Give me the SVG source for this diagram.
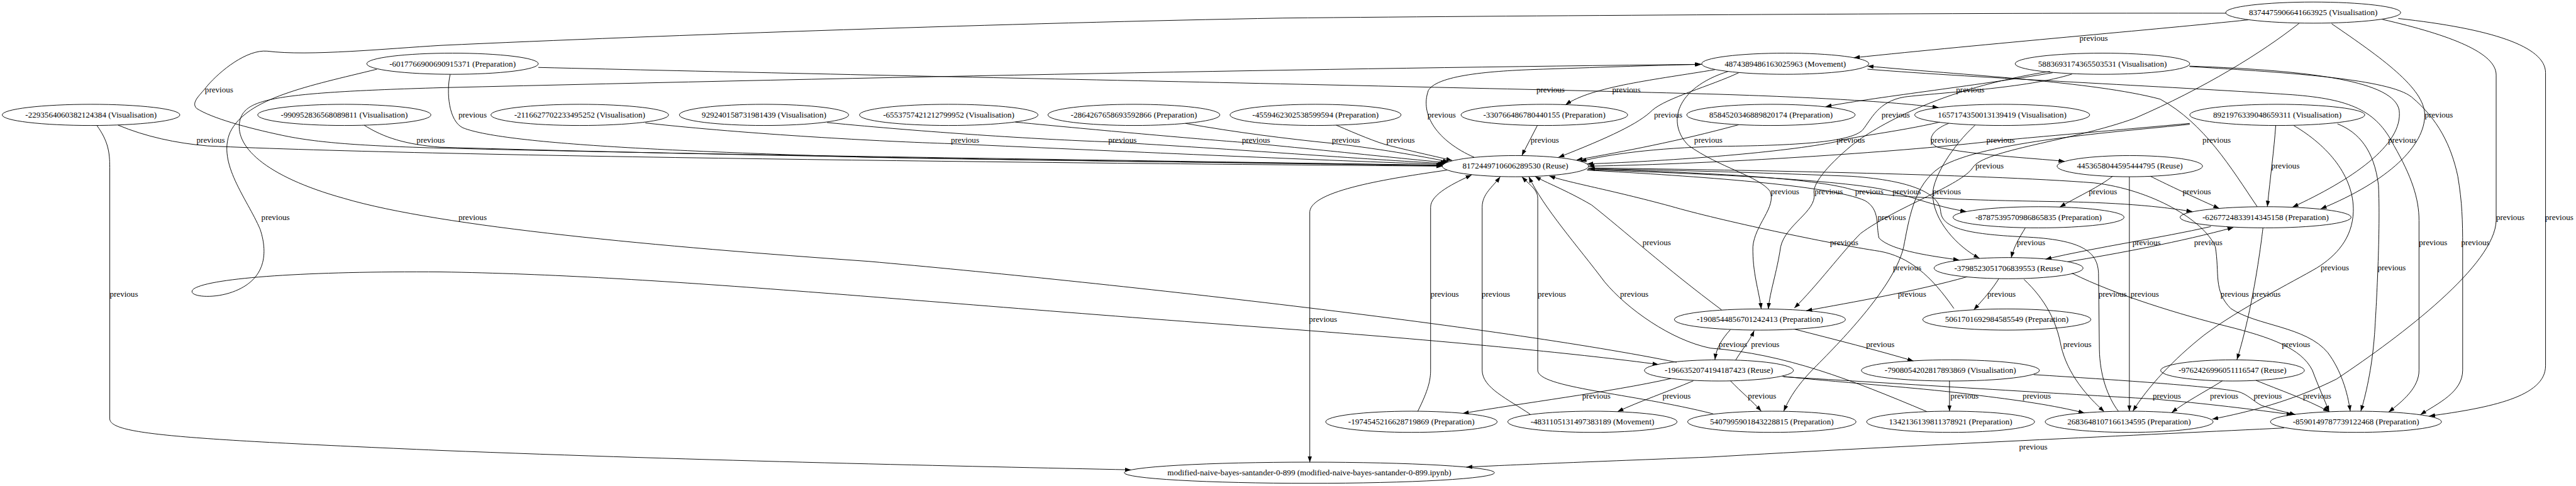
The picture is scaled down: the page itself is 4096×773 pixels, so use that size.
<svg xmlns="http://www.w3.org/2000/svg" width="4096" height="773" viewBox="0 0 4096 773">
<style>
.n ellipse{fill:none;stroke:#000;stroke-width:1.35}
text{font-family:"Liberation Serif","Times New Roman",serif;font-size:18.67px;text-anchor:middle;fill:#000}
#edges path{fill:none;stroke:#000;stroke-width:1.35;marker-end:url(#arr)}
</style>
<defs>
<marker id="arr" markerWidth="14" markerHeight="10" refX="13.5" refY="4.75" orient="auto" markerUnits="userSpaceOnUse"><path d="M0,0L13.5,4.75L0,9.5z" fill="#000"/></marker>
</defs>
<rect width="4096" height="773" fill="#fff"/>
<g transform="scale(0.701)">
<g id="edges">
<path d="M5100,45 C4900,66 4500,100 4205,131"/><text x="4749" y="93">previous</text>
<path d="M5049,30 C4500,29 3500,35 2910,41 C2300,52 1500,80 1000,103 C880,110 700,128 606,116 C560,112 500,160 470,195 C455,215 432,232 446,246 C480,268 560,290 640,307 C720,324 820,331 1000,336 C1700,354 2800,366 3272,376"/><text x="497" y="209">previous</text>
<path d="M1221,153 C2000,172 3300,197 3900,214 C4150,222 4300,232 4397,244"/><text x="3517" y="209">previous</text>
<path d="M3890,158 C3760,180 3610,196 3551,238"/><text x="3689" y="209">previous</text>
<path d="M4656,165 C4480,195 4240,222 4141,242"/><text x="4469" y="209">previous</text>
<path d="M1021,169 C1012,210 1018,275 1050,290 C1150,330 1600,345 1970,357 C2500,367 3000,370 3272,375"/><text x="1072" y="267">previous</text>
<path d="M3344,357 C3260,320 3220,260 3240,205 C3262,168 3400,160 3500,157 C3650,152 3760,148 3860,146"/><text x="3270" y="267">previous</text>
<path d="M3944,165 C3880,195 3780,222 3748,250 C3718,280 3650,312 3535,357"/><text x="3784" y="267">previous</text>
<path d="M4700,168 C4600,200 4400,210 4320,220 C4260,230 4245,270 4225,295 C4200,320 4100,330 3900,332 C3750,336 3650,350 3585,366"/><text x="4300" y="267">previous</text>
<path d="M5289,54 C5400,130 5500,200 5500,261 C5500,330 5420,410 5264,474"/><text x="5532" y="267">previous</text>
<path d="M268,284 C330,310 400,325 470,331 C1000,356 2500,371 3272,377"/><text x="478" y="324">previous</text>
<path d="M826,284 C870,312 920,328 1000,334 C1800,358 2800,369 3272,376"/><text x="977" y="324">previous</text>
<path d="M1464,279 C1700,305 2000,321 2157,326 C2600,346 3000,364 3275,373"/><text x="2189" y="324">previous</text>
<path d="M1876,278 C2100,300 2350,316 2515,322 C2800,338 3100,362 3278,371"/><text x="2546" y="324">previous</text>
<path d="M2303,277 C2500,296 2700,314 2818,323 C3000,340 3180,360 3281,369"/><text x="2849" y="324">previous</text>
<path d="M2689,280 C2800,300 2920,315 3020,325 C3150,340 3240,358 3286,367"/><text x="3053" y="324">previous</text>
<path d="M3031,284 C3080,305 3120,322 3150,330 C3210,345 3260,356 3294,364"/><text x="3177" y="324">previous</text>
<path d="M3487,285 C3476,308 3463,330 3452,353"/><text x="3504" y="324">previous</text>
<path d="M3944,283 C3800,322 3690,342 3576,363"/><text x="3875" y="324">previous</text>
<path d="M4420,280 C4380,295 4368,322 4395,334 C4480,352 4600,358 4683,366"/><text x="4411" y="324">previous</text>
<path d="M5120,469 C5060,380 5000,280 4900,225 C4750,185 4450,170 4236,150"/><text x="5028" y="324">previous</text>
<path d="M4966,150 C5250,160 5430,185 5442,250 C5452,330 5330,410 5200,470"/><text x="5449" y="324">previous</text>
<path d="M5162,285 C5158,340 5150,400 5143,469"/><text x="5184" y="383">previous</text>
<path d="M4792,400 C4760,425 4720,442 4672,470"/><text x="4770" y="441">previous</text>
<path d="M4878,400 C4910,416 4960,440 5034,473"/><text x="4983" y="441">previous</text>
<path d="M4690,594 C4800,576 4950,548 5066,516"/><text x="5009" y="556">previous</text>
<path d="M5404,44 C5560,80 5662,120 5662,170 L5662,500 C5660,600 5450,760 5300,860 C5200,910 5100,935 5018,951"/><text x="5694" y="499">previous</text>
<path d="M5440,42 C5650,65 5774,105 5774,165 L5774,830 C5774,900 5650,925 5510,944"/><text x="5805" y="499">previous</text>
<path d="M855,157 C700,195 560,222 522,300 C492,370 560,450 590,520 C610,580 600,640 520,665 C470,680 420,670 440,655 C480,630 700,615 1000,617 C1500,625 2000,680 2940,748 C3300,775 3600,805 3762,827"/><text x="625" y="499">previous</text>
<path d="M3803,822 C3400,740 2500,640 1970,593 C1500,560 1000,515 780,450 C600,400 528,330 545,270 C560,225 620,210 1000,199 C2000,175 3000,155 3858,146"/><text x="1072" y="499">previous</text>
<path d="M220,285 C245,320 249,345 249,380 L249,950 C249,985 400,996 1000,1022 C1600,1046 2200,1058 2565,1066"/><text x="281" y="673">previous</text>
<path d="M3282,386 C3150,405 2975,432 2971,480 L2971,1049"/><text x="3001" y="731">previous</text>
<path d="M3216,933 C3240,885 3245,862 3245,840 L3245,470 C3245,440 3300,415 3338,397"/><text x="3277" y="673">previous</text>
<path d="M3471,940 C3420,905 3362,880 3362,840 L3362,470 C3362,440 3385,425 3403,401"/><text x="3393" y="673">previous</text>
<path d="M3886,939 C3700,892 3488,880 3488,840 L3488,450 C3488,430 3470,420 3452,401"/><text x="3520" y="673">previous</text>
<path d="M4371,934 C4200,862 4050,803 3880,790 C3790,772 3690,700 3640,640 C3580,560 3500,470 3468,401"/><text x="3707" y="673">previous</text>
<path d="M3905,703 C3780,610 3680,520 3610,465 C3550,430 3505,414 3482,400"/><text x="3758" y="556">previous</text>
<path d="M4432,700 C4380,625 4330,582 4263,570 C4150,553 3900,500 3790,468 C3650,430 3560,415 3514,399"/><text x="4183" y="556">previous</text>
<path d="M4462,628 C4350,660 4200,686 4097,705"/><text x="4337" y="673">previous</text>
<path d="M4534,632 C4520,655 4500,678 4477,703"/><text x="4540" y="673">previous</text>
<path d="M4594,517 C4580,540 4568,560 4562,585"/><text x="4607" y="556">previous</text>
<path d="M5015,514 C4900,540 4760,560 4640,588"/><text x="4869" y="556">previous</text>
<path d="M3925,748 C3905,770 3893,790 3890,816"/><text x="3931" y="788">previous</text>
<path d="M3937,817 C3950,795 3968,775 3979,750"/><text x="4004" y="788">previous</text>
<path d="M4071,747 C4160,770 4260,795 4340,819"/><text x="4265" y="788">previous</text>
<path d="M4591,634 C4640,680 4665,730 4675,785 C4690,850 4735,900 4773,934"/><text x="4712" y="788">previous</text>
<path d="M3790,859 C3650,890 3450,915 3318,938"/><text x="3621" y="904">previous</text>
<path d="M3841,864 C3780,890 3720,910 3669,934"/><text x="3803" y="904">previous</text>
<path d="M3925,864 C3950,890 3975,910 3995,933"/><text x="3997" y="904">previous</text>
<path d="M4422,864 L4422,933"/><text x="4456" y="904">previous</text>
<path d="M4043,854 C4200,870 4380,882 4470,895 C4580,908 4660,920 4728,937"/><text x="4620" y="904">previous</text>
<path d="M4046,855 C4300,870 4700,895 4880,905 C5000,915 5120,930 5200,941"/><text x="4915" y="904">previous</text>
<path d="M5041,864 C5000,890 4960,910 4926,936"/><text x="5045" y="904">previous</text>
<path d="M4613,850 C4800,862 5000,875 5075,888 C5100,895 5110,910 5130,920 C5160,930 5185,935 5207,941"/><text x="5144" y="904">previous</text>
<path d="M5117,863 C5170,885 5230,905 5283,934"/><text x="5256" y="904">previous</text>
<path d="M5181,971 C4900,985 4300,1012 3880,1037 C3600,1048 3420,1055 3326,1060"/><text x="4612" y="1020">previous</text>
<path d="M4830,401 L4830,933"/><text x="4865" y="673">previous</text>
<path d="M5133,517 C5128,560 5110,700 5074,816"/><text x="5141" y="673">previous</text>
<path d="M3603,381 C3900,385 4500,395 4750,415 C4880,430 5000,500 5025,560 C5035,620 5020,660 5060,700 C5120,740 5230,740 5280,800 C5310,840 5325,890 5331,933"/><text x="5069" y="673">previous</text>
<path d="M5203,285 C5280,330 5340,400 5338,480 C5336,540 5300,580 5255,608 C5200,640 5080,700 5000,760 C4930,815 4870,880 4838,933"/><text x="5296" y="614">previous</text>
<path d="M5302,281 C5350,300 5385,340 5395,420 C5400,520 5390,700 5386,760 C5380,840 5365,900 5355,933"/><text x="5425" y="614">previous</text>
<path d="M4236,157 C4500,178 4900,195 5200,215 C5330,225 5390,250 5430,330 C5470,400 5487,450 5487,500 L5487,840 C5487,880 5450,910 5418,935"/><text x="5519" y="556">previous</text>
<path d="M4967,151 C5200,165 5420,180 5470,220 C5530,270 5560,330 5575,400 C5585,460 5586,500 5586,560 L5586,840 C5586,890 5530,915 5490,941"/><text x="5615" y="556">previous</text>
<path d="M4967,282 C4800,300 4500,320 4400,380 C4340,420 4330,500 4318,560 C4300,640 4200,750 4120,830 C4080,870 4060,900 4046,933"/><text x="4326" y="614">previous</text>
<path d="M4700,620 C4800,670 4950,715 5050,740 C5150,765 5220,790 5245,840 C5260,880 5272,905 5283,934"/><text x="5208" y="788">previous</text>
<path d="M4400,277 C4300,300 4200,310 4163,322 C4050,345 3800,365 3600,372"/><text x="4198" y="324">previous</text>
<path d="M4967,280 C4750,300 4600,312 4505,322 C4300,345 3900,372 3603,377"/><text x="4538" y="324">previous</text>
<path d="M5215,53 C5130,120 5000,200 4843,268 C4700,320 4500,340 4475,380 C4450,420 4300,470 4220,530 C4180,570 4120,650 4070,699"/><text x="4513" y="383">previous</text>
<path d="M3920,162 C3800,200 3780,280 3830,330 C3900,380 3990,400 4015,434 C4030,470 3980,510 3976,560 C3975,620 3990,660 3995,701"/><text x="4049" y="441">previous</text>
<path d="M4650,162 C4400,200 4250,290 4200,330 C4140,380 4110,420 4115,440 C4120,480 4050,510 4039,560 C4030,620 4015,660 4011,701"/><text x="4148" y="441">previous</text>
<path d="M3602,383 C3800,390 4100,400 4200,430 C4280,450 4500,455 4700,458 C4850,462 4920,472 4973,480"/><text x="4240" y="441">previous</text>
<path d="M3600,385 C3900,395 4200,410 4290,434 C4360,455 4400,470 4460,480"/><text x="4325" y="441">previous</text>
<path d="M4480,284 C4430,330 4385,400 4384,440 C4384,500 4440,560 4490,586"/><text x="4416" y="441">previous</text>
<path d="M4805,933 C4780,900 4763,850 4762,793 L4760,620 C4758,578 4735,545 4600,538 C4470,532 4405,520 4402,480 C4399,440 4340,410 4200,400 C3950,390 3750,385 3604,383"/><text x="4792" y="673">previous</text>
<path d="M3600,386 C3850,400 4150,420 4230,455 C4265,475 4255,510 4262,540 C4290,570 4390,582 4444,590"/><text x="4291" y="499">previous</text>
</g>
<g id="n_A" class="n"><ellipse cx="5247" cy="28.6" rx="198.5" ry="24"/><text x="5247" y="34.6">8374475906641663925 (Visualisation)</text></g>
<g id="n_B" class="n"><ellipse cx="1026.5" cy="144.6" rx="194.5" ry="24"/><text x="1026.5" y="150.6">-6017766900690915371 (Preparation)</text></g>
<g id="n_M" class="n"><ellipse cx="4049.5" cy="144.6" rx="189.5" ry="24"/><text x="4049.5" y="150.6">4874389486163025963 (Movement)</text></g>
<g id="n_C" class="n"><ellipse cx="4769" cy="144.6" rx="198" ry="24"/><text x="4769" y="150.6">5883693174365503531 (Visualisation)</text></g>
<g id="n_D1" class="n"><ellipse cx="206.5" cy="260.7" rx="201.5" ry="24"/><text x="206.5" y="266.7">-2293564060382124384 (Visualisation)</text></g>
<g id="n_D2" class="n"><ellipse cx="781" cy="260.7" rx="196.5" ry="24"/><text x="781" y="266.7">-990952836568089811 (Visualisation)</text></g>
<g id="n_D3" class="n"><ellipse cx="1315" cy="260.7" rx="201.5" ry="24"/><text x="1315" y="266.7">-2116627702233495252 (Visualisation)</text></g>
<g id="n_D4" class="n"><ellipse cx="1733" cy="260.7" rx="192" ry="24"/><text x="1733" y="266.7">929240158731981439 (Visualisation)</text></g>
<g id="n_D5" class="n"><ellipse cx="2152" cy="260.7" rx="202.5" ry="24"/><text x="2152" y="266.7">-6553757421212799952 (Visualisation)</text></g>
<g id="n_D6" class="n"><ellipse cx="2572" cy="260.7" rx="195" ry="24"/><text x="2572" y="266.7">-2864267658693592866 (Preparation)</text></g>
<g id="n_D7" class="n"><ellipse cx="2984" cy="260.7" rx="194" ry="24"/><text x="2984" y="266.7">-4559462302538599594 (Preparation)</text></g>
<g id="n_E" class="n"><ellipse cx="3503" cy="260.7" rx="189" ry="24"/><text x="3503" y="266.7">-330766486780440155 (Preparation)</text></g>
<g id="n_F" class="n"><ellipse cx="4017" cy="260.7" rx="191" ry="24"/><text x="4017" y="266.7">8584520346889820174 (Preparation)</text></g>
<g id="n_G" class="n"><ellipse cx="4541.5" cy="260.7" rx="198.5" ry="24"/><text x="4541.5" y="266.7">1657174350013139419 (Visualisation)</text></g>
<g id="n_H" class="n"><ellipse cx="5165.5" cy="260.7" rx="198.5" ry="24"/><text x="5165.5" y="266.7">8921976339048659311 (Visualisation)</text></g>
<g id="n_T" class="n"><ellipse cx="3437.4" cy="377" rx="166" ry="24"/><text x="3437.4" y="383">8172449710606289530 (Reuse)</text></g>
<g id="n_I" class="n"><ellipse cx="4831" cy="377" rx="165" ry="24"/><text x="4831" y="383">4453658044595444795 (Reuse)</text></g>
<g id="n_J" class="n"><ellipse cx="4624" cy="493" rx="194" ry="24"/><text x="4624" y="499">-8787539570986865835 (Preparation)</text></g>
<g id="n_K" class="n"><ellipse cx="5139" cy="493" rx="194" ry="24"/><text x="5139" y="499">-6267724833914345158 (Preparation)</text></g>
<g id="n_L" class="n"><ellipse cx="4556" cy="608.4" rx="169" ry="24"/><text x="4556" y="614.4">-3798523051706839553 (Reuse)</text></g>
<g id="n_N" class="n"><ellipse cx="3992" cy="725" rx="194" ry="24"/><text x="3992" y="731">-1908544856701242413 (Preparation)</text></g>
<g id="n_O" class="n"><ellipse cx="4552" cy="725" rx="190.7" ry="24"/><text x="4552" y="731">5061701692984585549 (Preparation)</text></g>
<g id="n_P" class="n"><ellipse cx="3899" cy="840.5" rx="169" ry="24"/><text x="3899" y="846.5">-1966352074194187423 (Reuse)</text></g>
<g id="n_Q" class="n"><ellipse cx="4424" cy="840.5" rx="202" ry="24"/><text x="4424" y="846.5">-7908054202817893869 (Visualisation)</text></g>
<g id="n_S" class="n"><ellipse cx="5064" cy="840.5" rx="163" ry="24"/><text x="5064" y="846.5">-9762426996051116547 (Reuse)</text></g>
<g id="n_U1" class="n"><ellipse cx="3201.5" cy="957" rx="194.5" ry="24"/><text x="3201.5" y="963">-1974545216628719869 (Preparation)</text></g>
<g id="n_U2" class="n"><ellipse cx="3612" cy="957" rx="192" ry="24"/><text x="3612" y="963">-4831105131497383189 (Movement)</text></g>
<g id="n_U3" class="n"><ellipse cx="4019" cy="957" rx="191" ry="24"/><text x="4019" y="963">5407995901843228815 (Preparation)</text></g>
<g id="n_U4" class="n"><ellipse cx="4424.5" cy="957" rx="190.5" ry="24"/><text x="4424.5" y="963">1342136139811378921 (Preparation)</text></g>
<g id="n_U5" class="n"><ellipse cx="4829.5" cy="957" rx="190.5" ry="24"/><text x="4829.5" y="963">2683648107166134595 (Preparation)</text></g>
<g id="n_U6" class="n"><ellipse cx="5344" cy="957" rx="194" ry="24"/><text x="5344" y="963">-8590149787739122468 (Preparation)</text></g>
<g id="n_Z" class="n"><ellipse cx="2970" cy="1072.6" rx="420" ry="24"/><text x="2970" y="1078.6">modified-naive-bayes-santander-0-899 (modified-naive-bayes-santander-0-899.ipynb)</text></g>
</g>
</svg>
